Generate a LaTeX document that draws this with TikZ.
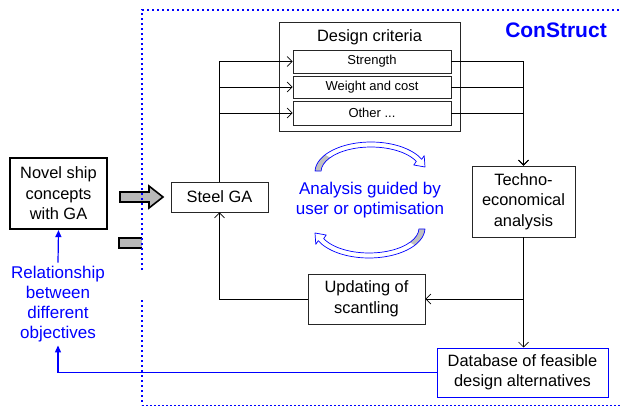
\documentclass[tikz,border=0pt]{standalone}
\usepackage{fontspec}
\setmainfont{Liberation Sans}
\usetikzlibrary{arrows.meta,calc}
\tikzset{
  bx/.style={draw=black!85, line width=0.7pt, inner sep=0pt, align=center, font=\fontsize{16.4}{20.5}\selectfont},
  crit/.style={bx, font=\fontsize{13}{15}\selectfont, minimum width=158pt},
  conn/.style={draw=black, line width=0.7pt, -{Straight Barb[length=5pt,width=10pt]}},
  bconn/.style={draw=blue, line width=1.2pt, -{Triangle[length=7pt,width=6pt]}},
  btext/.style={text=blue, align=center, font=\fontsize{17}{20}\selectfont},
  frame/.style={draw=blue, line width=2pt, dash pattern=on 2pt off 3pt},
  graybar/.style={fill=gray!55, draw=black, line width=1.6pt},
  curvarrow/.pic={
    \fill[gray!50] (178:56pt and 30pt) arc[start angle=178,end angle=145,x radius=56pt,y radius=30pt]
      -- (145:50pt and 25pt) arc[start angle=145,end angle=178,x radius=50pt,y radius=25pt] -- cycle;
    \draw[blue, line width=0.7pt, line join=round] (178:56pt and 30pt)
      arc[start angle=178,end angle=25,x radius=56pt,y radius=30pt]
      -- (53.2,16.4) -- (54,5) -- (42.8,7)
      -- (25:50pt and 25pt) arc[start angle=25,end angle=178,x radius=50pt,y radius=25pt] -- cycle;
  }
}
\begin{document}
\begin{tikzpicture}[x=1pt,y=1pt]
\useasboundingbox (0,0) rectangle (622,-407);

% gray block arrows
\draw[graybar] (120,-192) -- (149,-192) -- (149,-186) -- (163,-197) -- (149,-208) -- (149,-202) -- (120,-202) -- cycle;
\fill[gray!55] (119,-238) rectangle (142,-248);
\draw[black, line width=1.6pt] (142,-238) -- (119,-238) -- (119,-248) -- (142,-248);

% ConStruct frame
\draw[frame] (142,-270) -- (142,-10) -- (622,-10);
\draw[frame] (142,-300) -- (142,-405);
\draw[draw=blue, line width=1pt, dash pattern=on 1.5pt off 2.5pt] (142,-405) -- (622,-405);
\node[text=blue, font=\fontsize{21}{24}\selectfont\bfseries] (title) at (556,-30) {ConStruct};

% nodes
\node[bx, draw=black, line width=2.2pt, minimum width=97pt, minimum height=71pt] (novel) at (58.5,-193.5) {Novel ship\\concepts\\with GA};
\node[btext] (rel) at (58,-304) {Relationship\\between\\different\\objectives};
\node[bx, minimum width=97pt, minimum height=30pt] (steel) at (219.5,-197) {Steel GA};
\node[bx, minimum width=181pt, minimum height=109pt] (crit) at (369.5,-76.5) {};
\node[font=\fontsize{16.4}{20}\selectfont] (crittitle) at (369.5,-37) {Design criteria};
\node[crit, minimum height=23pt] (str) at (372,-61.5) {Strength};
\node[crit, minimum height=22pt] (wgt) at (372,-87) {Weight and cost};
\node[crit, minimum height=24pt] (oth) at (372,-113) {Other ...};
\node[bx, minimum width=103pt, minimum height=71pt] (techno) at (523.5,-201.5) {Techno-\\economical\\analysis};
\node[bx, minimum width=117pt, minimum height=50pt] (upd) at (366.5,-299) {Updating of\\scantling};
\node[bx, draw=blue, line width=1pt, minimum width=171pt, minimum height=49pt] (db) at (522.5,-372.5) {Database of feasible\\design alternatives};
\node[btext] (analysis) at (370,-200) {Analysis guided by\\user or optimisation};

% curved arrows
\pic at (371,-172) {curvarrow};
\pic[rotate=180] at (369,-228) {curvarrow};

% connectors
\draw[conn] (steel.north) |- (str.west);
\draw[conn] (steel.north) |- (wgt.west);
\draw[conn] (steel.north) |- (oth.west);
\draw[conn] (str.east) -| (techno.north);
\draw[conn] (wgt.east) -| (techno.north);
\draw[conn] (oth.east) -| (techno.north);
\draw[conn] (upd.west) -| (steel.south);
\draw[conn] (techno.south) |- (upd.east);
\draw[conn] (techno.south) -- (techno.south |- db.north);
\draw[bconn] (db.west) -| (rel.south);
\draw[bconn] (rel.north) -- (novel.south);
\end{tikzpicture}
\end{document}
